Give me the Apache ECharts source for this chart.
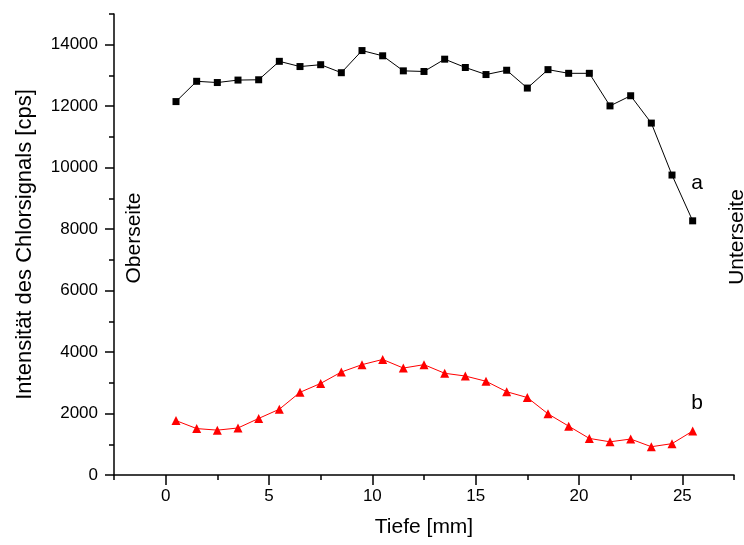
<!DOCTYPE html>
<html>
<head>
<meta charset="utf-8">
<script src="https://cdn.jsdelivr.net/npm/echarts@6/dist/echarts.min.js"></script>
<style>
html,body{margin:0;padding:0;background:#fff;}
#chart{width:744px;height:545px;}
</style>
</head>
<body>
<div id="chart"></div>
<script>
const depth = [0.5, 1.5, 2.5, 3.5, 4.5, 5.5, 6.5, 7.5, 8.5, 9.5, 10.5, 11.5, 12.5,
               13.5, 14.5, 15.5, 16.5, 17.5, 18.5, 19.5, 20.5, 21.5, 22.5, 23.5, 24.5, 25.5];
const seriesA = [12150, 12810, 12770, 12850, 12860, 13460, 13290, 13350, 13090, 13810, 13640, 13150, 13130,
                 13530, 13260, 13030, 13170, 12590, 13190, 13070, 13070, 12010, 12340, 11450, 9760, 8270];
const seriesB = [1770, 1510, 1460, 1530, 1840, 2140, 2690, 2980, 3350, 3590, 3760, 3480, 3590,
                 3310, 3220, 3050, 2710, 2520, 1990, 1590, 1190, 1080, 1170, 920, 1020, 1430];
const xMajorTicks = [0, 5, 10, 15, 20, 25];
const yMajorTicks = [0, 2000, 4000, 6000, 8000, 10000, 12000, 14000];
const xTitle = 'Tiefe [mm]';
const yTitle = 'Intensität des Chlorsignals [cps]';

const FONT = 'Liberation Sans, Arial, sans-serif';
const chart = echarts.init(document.getElementById('chart'), null, {renderer: 'canvas'});

function pairs(xs, ys) { return xs.map((x, i) => [x, ys[i]]); }
const plain = v => String(v);

const axisLineStyle = {color: '#000', width: 1.5};

chart.setOption({
  animation: false,
  backgroundColor: '#fff',
  grid: {left: 114, right: 10, top: 14, bottom: 70, containLabel: false, outerBoundsMode: 'none'},
  xAxis: [
    {
      type: 'value', gridIndex: 0, position: 'bottom', min: -2.5, max: 27.5, interval: 2.5,
      axisLine: {show: true, onZero: false, lineStyle: axisLineStyle},
      axisTick: {show: true, length: 5, lineStyle: axisLineStyle},
      axisLabel: {customValues: xMajorTicks, formatter: plain, color: '#000', fontSize: 17, fontFamily: FONT, margin: 13},
      splitLine: {show: false},
      name: xTitle, nameLocation: 'middle', nameGap: 42,
      nameTextStyle: {color: '#000', fontSize: 21, fontFamily: FONT}
    },
    {
      type: 'value', gridIndex: 0, position: 'bottom', min: -2.5, max: 27.5,
      axisLine: {show: false, onZero: false},
      axisTick: {show: true, customValues: xMajorTicks, length: 10, lineStyle: axisLineStyle},
      axisLabel: {show: false},
      splitLine: {show: false}
    }
  ],
  yAxis: [
    {
      type: 'value', gridIndex: 0, position: 'left', min: 0, max: 15000, interval: 1000,
      axisLine: {show: true, onZero: false, lineStyle: axisLineStyle},
      axisTick: {show: true, length: 5, lineStyle: axisLineStyle},
      axisLabel: {customValues: yMajorTicks, formatter: plain, color: '#000', fontSize: 17, fontFamily: FONT, margin: 16},
      splitLine: {show: false},
      name: yTitle, nameLocation: 'middle', nameGap: 78, nameMoveOverlap: false,
      nameTextStyle: {color: '#000', fontSize: 22, fontFamily: FONT}
    },
    {
      type: 'value', gridIndex: 0, position: 'left', min: 0, max: 15000,
      axisLine: {show: false, onZero: false},
      axisTick: {show: true, customValues: yMajorTicks, length: 9, lineStyle: axisLineStyle},
      axisLabel: {show: false},
      splitLine: {show: false}
    }
  ],
  series: [
    {
      name: 'a', type: 'line', xAxisIndex: 0, yAxisIndex: 0,
      data: pairs(depth, seriesA),
      symbol: 'rect', symbolSize: 7,
      lineStyle: {color: '#000', width: 1},
      itemStyle: {color: '#000'},
      emphasis: {disabled: true}
    },
    {
      name: 'b', type: 'line', xAxisIndex: 0, yAxisIndex: 0,
      data: pairs(depth, seriesB),
      symbol: 'triangle', symbolSize: 9,
      lineStyle: {color: '#ff0000', width: 1},
      itemStyle: {color: '#ff0000'},
      emphasis: {disabled: true}
    }
  ],
  graphic: [
    {type: 'text', x: 697, y: 183, style: {text: 'a', font: '21px ' + FONT, fill: '#000', align: 'center', verticalAlign: 'middle'}},
    {type: 'text', x: 697, y: 403, style: {text: 'b', font: '21px ' + FONT, fill: '#000', align: 'center', verticalAlign: 'middle'}},
    {type: 'text', x: 134, y: 238, rotation: Math.PI / 2, style: {text: 'Oberseite', font: '21px ' + FONT, fill: '#000', align: 'center', verticalAlign: 'middle'}},
    {type: 'text', x: 737, y: 237, rotation: Math.PI / 2, style: {text: 'Unterseite', font: '21px ' + FONT, fill: '#000', align: 'center', verticalAlign: 'middle'}}
  ]
});
</script>
</body>
</html>
